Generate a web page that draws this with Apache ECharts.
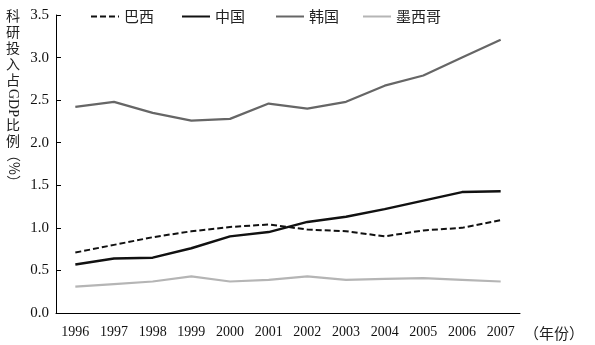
<!DOCTYPE html>
<html><head><meta charset="utf-8">
<script src="https://cdn.jsdelivr.net/npm/echarts@6/dist/echarts.min.js"></script>
<style>html,body{margin:0;padding:0;background:#fff}#c{width:595px;height:345px}</style>
</head><body><div id="c"></div>
<script>
var years = ['1996','1997','1998','1999','2000','2001','2002','2003','2004','2005','2006','2007'];
var brazil = [0.71,0.80,0.89,0.96,1.01,1.04,0.98,0.96,0.90,0.97,1.00,1.09];
var china = [0.57,0.64,0.65,0.76,0.90,0.95,1.07,1.13,1.22,1.32,1.42,1.43];
var korea = [2.42,2.48,2.35,2.26,2.28,2.46,2.40,2.48,2.67,2.79,3.00,3.21];
var mexico = [0.31,0.34,0.37,0.43,0.37,0.39,0.43,0.39,0.40,0.41,0.39,0.37];
var seriesNames = ['巴西','中国','韩国','墨西哥'];
var yTicks = ['0.0','0.5','1.0','1.5','2.0','2.5','3.0','3.5'];

var serif = 'Liberation Serif';
var cjk = '"Noto Sans CJK SC"';
var chart = echarts.init(document.getElementById('c'));
function mkLegend(name, left) {
  return {
    data: [name], left: left, top: 9, padding: 0, itemWidth: 28, itemHeight: 14, itemGap: 0,
    textStyle: {fontFamily: cjk, fontSize: 15, color: '#222'},
    itemStyle: {opacity: 0}
  };
}
var styles = [
  {color: '#111', width: 2, type: [6, 3]},
  {color: '#111', width: 2.5, type: 'solid'},
  {color: '#666666', width: 2.2, type: 'solid'},
  {color: '#b5b5b5', width: 2.2, type: 'solid'}
];
var datas = [brazil, china, korea, mexico];
var series = seriesNames.map(function (n, i) {
  return {
    name: n, type: 'line', data: datas[i], symbol: 'none',
    lineStyle: styles[i], itemStyle: {color: styles[i].color}
  };
});
chart.setOption({
  animation: false,
  legend: [mkLegend('巴西', 90), mkLegend('中国', 181), mkLegend('韩国', 275), mkLegend('墨西哥', 362)],
  grid: {left: 56, right: 75, top: 15, bottom: 32, containLabel: false},
  xAxis: {
    type: 'category', data: years, boundaryGap: true,
    axisLine: {lineStyle: {color: '#000', width: 1}},
    axisTick: {inside: true, length: 5, lineStyle: {color: '#000'}, alignWithLabel: false},
    axisLabel: {fontFamily: serif, fontSize: 14, color: '#111', margin: 12}
  },
  yAxis: {
    type: 'value', min: 0, max: 3.5, interval: 0.5,
    axisLine: {show: true, lineStyle: {color: '#000', width: 1}},
    axisTick: {show: true, inside: true, length: 5, lineStyle: {color: '#000'}},
    splitLine: {show: false},
    axisLabel: {fontFamily: serif, fontSize: 15, color: '#111', margin: 7,
      formatter: function (v) { return yTicks[Math.round(v / 0.5)]; }}
  },
  series: series,
  graphic: [
    {type: 'text', left: 6, top: 8, style: {text: '科\n研\n投\n入\n占', font: '14px ' + cjk, fill: '#222', lineHeight: 16}},
    {type: 'text', x: 20, y: 89, rotation: -Math.PI / 2, style: {text: 'GDP', font: '14px ' + serif, fill: '#222'}},
    {type: 'text', left: 6, top: 117, style: {text: '比\n例', font: '14px ' + cjk, fill: '#222', lineHeight: 16}},
    {type: 'text', x: 21, y: 148, rotation: -Math.PI / 2, style: {text: '（%）', font: '14px ' + cjk, fill: '#222'}},
    {type: 'text', x: 524, y: 333, style: {text: '（年份）', font: '15px ' + cjk, fill: '#222', verticalAlign: 'middle'}}
  ]
});
</script></body></html>
